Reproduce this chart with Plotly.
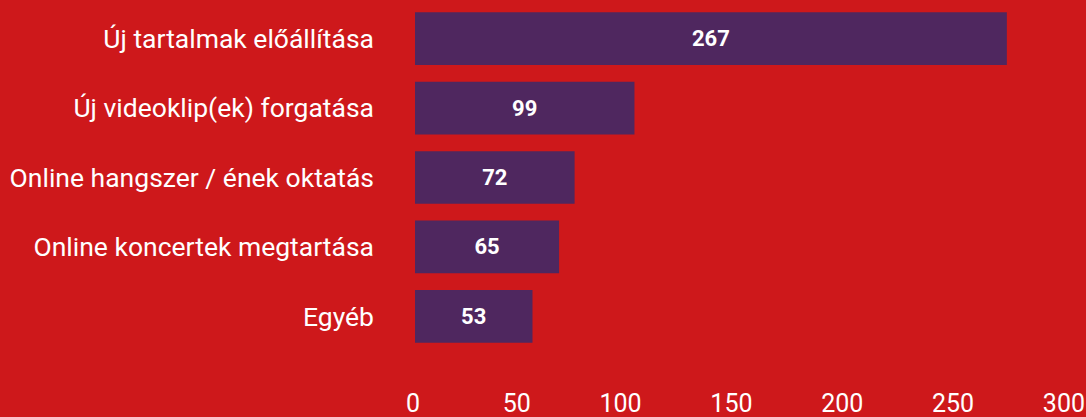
import plotly.graph_objects as go

categories = [
    "Új tartalmak előállítása",
    "Új videoklip(ek) forgatása",
    "Online hangszer / ének oktatás",
    "Online koncertek megtartása",
    "Egyéb",
]
values = [267, 99, 72, 65, 53]
x_ticks = [0, 50, 100, 150, 200, 250, 300]

BG = "#CE181B"
BAR = "#4F275F"
FONT = "Roboto"

fig = go.Figure(
    go.Bar(
        x=values,
        y=categories,
        orientation="h",
        marker=dict(color=BAR, line=dict(width=0)),
        width=0.76,
        text=[str(v) for v in values],
        textposition="inside",
        insidetextanchor="middle",
        textangle=0,
        textfont=dict(family=FONT, size=22, color="white", weight="bold"),
        hoverinfo="skip",
    )
)

fig.update_layout(
    width=1086,
    height=417,
    margin=dict(l=415, r=6, t=4, b=66),
    paper_bgcolor=BG,
    plot_bgcolor=BG,
    showlegend=False,
    font=dict(family=FONT, color="white", size=26),
)

fig.update_xaxes(
    range=[0, 300],
    tickvals=x_ticks,
    ticktext=[str(t) for t in x_ticks],
    showgrid=False,
    zeroline=False,
    showline=False,
    ticks="",
    ticklabelposition="outside left",
    ticklabelshift=5,
    ticklabelstandoff=35,
    tickfont=dict(family=FONT, size=25, color="white"),
    automargin=False,
    fixedrange=True,
)

fig.update_yaxes(
    categoryorder="array",
    categoryarray=categories,
    autorange="reversed",
    showgrid=False,
    zeroline=False,
    showline=False,
    ticks="",
    ticklabelstandoff=40,
    tickfont=dict(family=FONT, size=26.5, color="white"),
    automargin=False,
    fixedrange=True,
)

fig.write_html("out.html", config=dict(displayModeBar=False))
